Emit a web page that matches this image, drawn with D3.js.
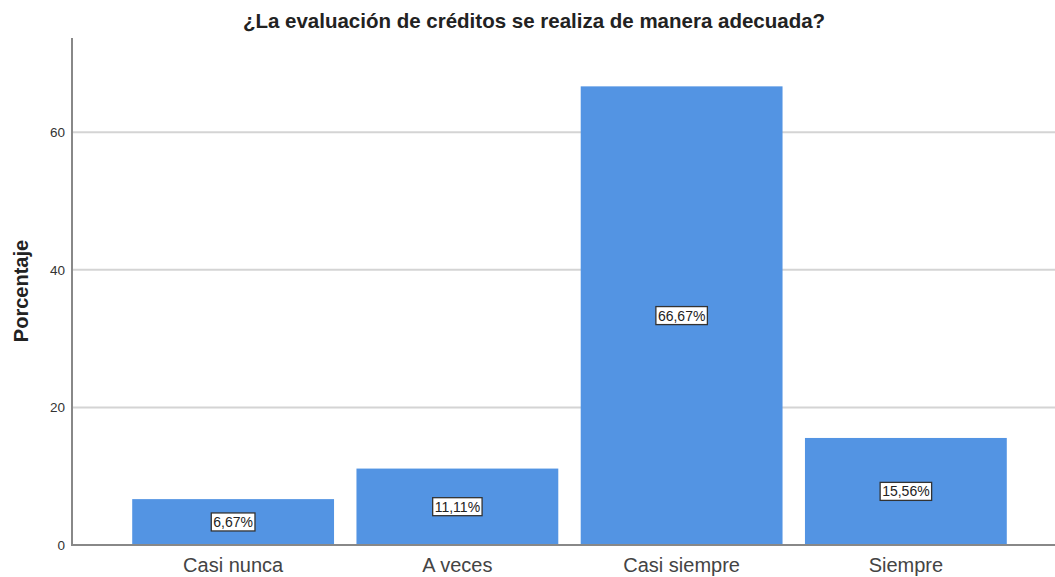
<!DOCTYPE html>
<html>
<head>
<meta charset="utf-8">
<script src="https://cdn.jsdelivr.net/npm/d3@7"></script>
<style>
  body { margin: 0; background: #fff; }
  text { font-family: "Liberation Sans", Arial, sans-serif; }
</style>
</head>
<body>
<svg id="chart"></svg>
<script>
// data
var categories = ["Casi nunca", "A veces", "Casi siempre", "Siempre"]
var values = [6.67, 11.11, 66.67, 15.56]
var yTicks = [0, 20, 40, 60]

var width = 1055
var height = 577
var svg = d3.select("#chart").attr("width", width).attr("height", height)

var x = d3.scaleBand()
      .domain(categories)
      .range([121, 1018])
      .paddingInner(0.1)
      .paddingOuter(0.05)

var y = d3.scaleLinear().domain([0, 73.7]).range([545, 38])

// gridlines
svg.append("g")
    .selectAll("line")
    .data(yTicks.filter(d => d > 0))
    .join("line")
    .attr("x1", 72).attr("x2", width)
    .attr("y1", d => y(d)).attr("y2", d => y(d))
    .attr("stroke", "#d4d4d4")
    .attr("stroke-width", 2)

// bars
svg.append("g")
    .selectAll("rect")
    .data(values)
    .join("rect")
    .attr("x", (d, i) => x(categories[i]))
    .attr("y", d => y(d))
    .attr("width", x.bandwidth())
    .attr("height", d => y(0) - y(d))
    .attr("fill", "#5394e3")

// axes lines
svg.append("line").attr("x1", 72).attr("x2", 72).attr("y1", 38).attr("y2", 545)
    .attr("stroke", "#888").attr("stroke-width", 2)
svg.append("line").attr("x1", 71).attr("x2", width).attr("y1", 545).attr("y2", 545)
    .attr("stroke", "#888").attr("stroke-width", 2)

// y tick labels
svg.append("g")
    .selectAll("text")
    .data(yTicks)
    .join("text")
    .attr("x", 65)
    .attr("y", d => y(d))
    .attr("dy", "0.35em")
    .attr("text-anchor", "end")
    .attr("font-size", 13.5)
    .attr("fill", "#333")
    .text(d => d)

// category labels
svg.append("g")
    .selectAll("text")
    .data(categories)
    .join("text")
    .attr("x", d => x(d) + x.bandwidth() / 2)
    .attr("y", 572)
    .attr("text-anchor", "middle")
    .attr("font-size", 20)
    .attr("fill", "#444")
    .text(d => d)

// value labels in boxes
var fmt = d => d.toFixed(2).replace(".", ",") + "%"
var lab = svg.append("g")
    .selectAll("g")
    .data(values)
    .join("g")
    .attr("transform", (d, i) => `translate(${x(categories[i]) + x.bandwidth() / 2},${(y(d) + y(0)) / 2})`)

lab.append("text")
    .attr("text-anchor", "middle")
    .attr("dy", "0.35em")
    .attr("font-size", 14)
    .attr("fill", "#222")
    .text(fmt)
    .each(function () {
      var b = this.getBBox()
      d3.select(this.parentNode).insert("rect", "text")
        .attr("x", b.x - 2).attr("y", b.y - 1)
        .attr("width", b.width + 4).attr("height", b.height + 2)
        .attr("fill", "#fff")
        .attr("stroke", "#333")
        .attr("stroke-width", 1.3)
    })

// title
svg.append("text")
    .attr("x", 534).attr("y", 28)
    .attr("text-anchor", "middle")
    .attr("font-size", 20.5)
    .attr("font-weight", "bold")
    .attr("fill", "#222")
    .text("¿La evaluación de créditos se realiza de manera adecuada?")

// y axis title
svg.append("text")
    .attr("transform", "translate(28,291) rotate(-90)")
    .attr("text-anchor", "middle")
    .attr("font-size", 20)
    .attr("font-weight", "bold")
    .attr("fill", "#222")
    .text("Porcentaje")
</script>
</body>
</html>
